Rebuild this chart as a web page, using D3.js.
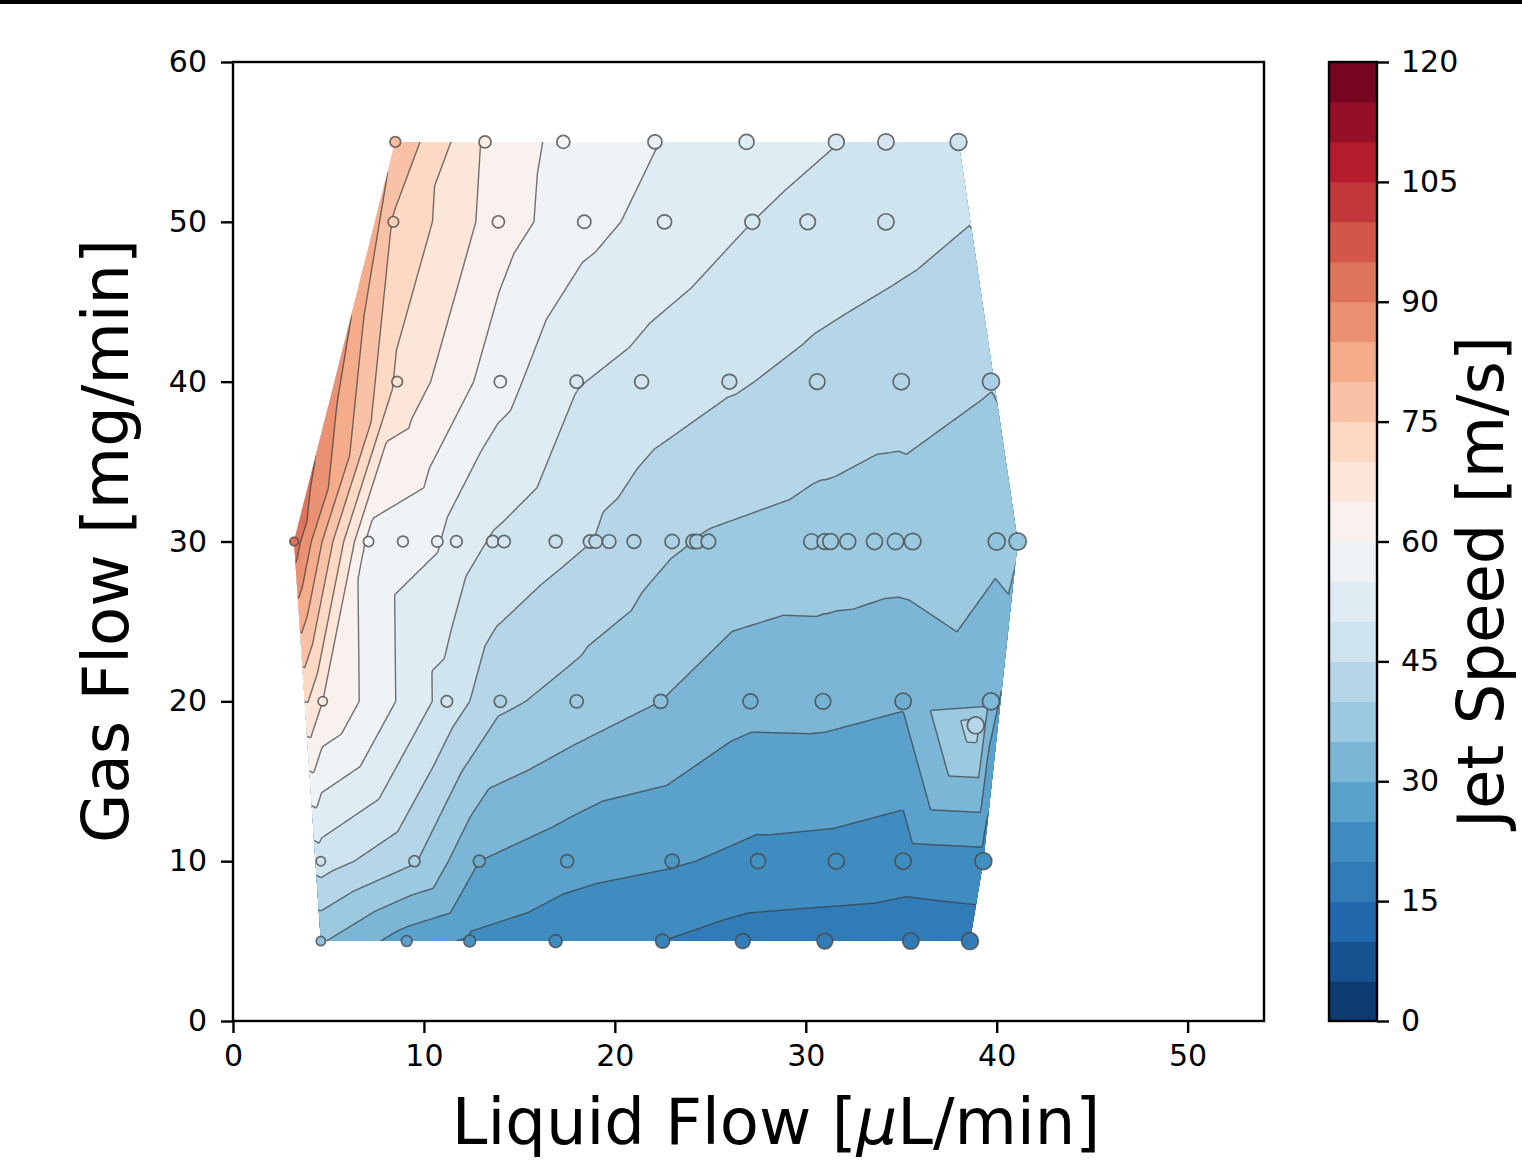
<!DOCTYPE html>
<html>
<head>
<meta charset="utf-8">
<script src="https://cdn.jsdelivr.net/npm/d3@7"></script>
<style>
    body { margin: 0; background: #fff; }
    svg text { font-family: "DejaVu Sans", sans-serif; fill: #000; }
</style>
</head>
<body>
<svg id="chart" width="1522" height="1162"></svg>
<script>
// measured points, read row by row (gas flow 55, 50, 40, 30, 20, 18.5, 10, 5)
const liquidFlow = [
    8.5, 13.2, 17.3, 22.1, 26.9, 31.6, 34.2, 38.0,
    8.4, 13.9, 18.4, 22.6, 27.2, 30.1, 34.2,
    8.6, 14.0, 18.0, 21.4, 26.0, 30.6, 35.0, 39.7,
    3.2, 7.1, 8.9, 10.7, 11.7, 13.6, 14.2, 16.9, 18.7, 19.0, 19.7, 21.0, 23.0, 24.1, 24.3, 24.9,
    30.3, 31.0, 31.3, 32.2, 33.6, 34.7, 35.6, 40.0, 41.1,
    4.7, 11.2, 14.0, 18.0, 22.4, 27.1, 30.9, 35.1, 39.7,
    38.9,
    4.6, 9.5, 12.9, 17.5, 23.0, 27.5, 31.6, 35.1, 39.3,
    4.6, 9.1, 12.4, 16.9, 22.5, 26.7, 31.0, 35.5, 38.6
];
const gasFlow = [
    55, 55, 55, 55, 55, 55, 55, 55,
    50, 50, 50, 50, 50, 50, 50,
    40, 40, 40, 40, 40, 40, 40, 40,
    30, 30, 30, 30, 30, 30, 30, 30, 30, 30, 30, 30, 30, 30, 30, 30,
    30, 30, 30, 30, 30, 30, 30, 30, 30,
    20, 20, 20, 20, 20, 20, 20, 20, 20,
    18.5,
    10, 10, 10, 10, 10, 10, 10, 10, 10,
    5, 5, 5, 5, 5, 5, 5, 5, 5
];
const jetSpeed = [
    79, 64.5, 58.4, 55.2, 52.4, 50.1, 49, 47.5,
    74.5, 62.4, 56.6, 53.1, 50, 48.5, 47,
    68.9, 56.9, 50.3, 48.2, 45.6, 43.5, 42, 40.3,
    93, 58.5, 57, 55.5, 52.5, 49.5, 49, 46.5, 45.1, 44.8, 43.8, 42.3, 40.6, 40, 39.8, 39.5,
    38, 37.8, 37.8, 37.6, 37.5, 37.4, 37.6, 35.6, 36,
    65, 48, 41, 38, 35, 31.5, 31.6, 30.5, 33,
    42.5,
    47.5, 40.5, 30, 27, 25.5, 23.7, 23.3, 22.4, 23,
    35.5, 27.6, 24.3, 22.2, 20, 18, 17.5, 17, 17.5
];

const xTicks = [0, 10, 20, 30, 40, 50];
const yTicks = [0, 10, 20, 30, 40, 50, 60];
const levels = [0, 5, 10, 15, 20, 25, 30, 35, 40, 45, 50, 55, 60,
                65, 70, 75, 80, 85, 90, 95, 100, 105, 110, 115, 120];
const cbarTicks = [0, 15, 30, 45, 60, 75, 90, 105, 120];

const svg = d3.select('#chart');

const plot = { left: 233, right: 1264, top: 62, bottom: 1021 };
const cbar = { left: 1329, right: 1377 };

const x = d3.scaleLinear().domain([0, 54]).range([plot.left, plot.right]);
const y = d3.scaleLinear().domain([0, 60]).range([plot.bottom, plot.top]);

// RdBu_r, piecewise linear through the 11 brewer stops like matplotlib
const stops = d3.schemeRdBu[11].slice().reverse();
const cmapLin = d3.scaleLinear()
    .domain(stops.map((s, i) => i / 10))
    .range(stops)
    .interpolate(d3.interpolateRgb);
const speedColor = v => cmapLin(Math.max(0, Math.min(1, v / 120)));

const points = liquidFlow.map((lx, i) => [lx, gasFlow[i], jetSpeed[i]]);
const delaunay = d3.Delaunay.from(points, d => d[0], d => d[1]);

// linear interpolation over the triangulation, sampled on a fine grid
const gx0 = 2, gx1 = 43, gy0 = 3, gy1 = 57, step = 0.08;
const nx = Math.round((gx1 - gx0) / step) + 1;
const ny = Math.round((gy1 - gy0) / step) + 1;
const grid = new Float64Array(nx * ny).fill(NaN);

const tri = delaunay.triangles;
for (let t = 0; t < tri.length; t += 3) {
    const a = points[tri[t]], b = points[tri[t + 1]], c = points[tri[t + 2]];
    const det = (b[1] - c[1]) * (a[0] - c[0]) + (c[0] - b[0]) * (a[1] - c[1]);
    if (Math.abs(det) < 1e-12) continue;
    const i0 = Math.max(0, Math.floor((Math.min(a[0], b[0], c[0]) - gx0) / step));
    const i1 = Math.min(nx - 1, Math.ceil((Math.max(a[0], b[0], c[0]) - gx0) / step));
    const j0 = Math.max(0, Math.floor((gy1 - Math.max(a[1], b[1], c[1])) / step));
    const j1 = Math.min(ny - 1, Math.ceil((gy1 - Math.min(a[1], b[1], c[1])) / step));
    for (let j = j0; j <= j1; j++) {
        const py = gy1 - j * step;
        for (let i = i0; i <= i1; i++) {
            const px = gx0 + i * step;
            const l1 = ((b[1] - c[1]) * (px - c[0]) + (c[0] - b[0]) * (py - c[1])) / det;
            const l2 = ((c[1] - a[1]) * (px - c[0]) + (a[0] - c[0]) * (py - c[1])) / det;
            const l3 = 1 - l1 - l2;
            if (l1 >= -1e-9 && l2 >= -1e-9 && l3 >= -1e-9) {
                grid[j * nx + i] = l1 * a[2] + l2 * b[2] + l3 * c[2];
            }
        }
    }
}

// outside the hull: take the value of the nearest point on the hull edge (clipped away later)
const hullPts = Array.from(delaunay.hull).map(i => points[i]);
for (let j = 0; j < ny; j++) {
    const py = gy1 - j * step;
    for (let i = 0; i < nx; i++) {
        if (!isNaN(grid[j * nx + i])) continue;
        const px = gx0 + i * step;
        let best = Infinity, val = 0;
        for (let k = 0; k < hullPts.length; k++) {
            const p = hullPts[k], q = hullPts[(k + 1) % hullPts.length];
            const dx = q[0] - p[0], dy = q[1] - p[1];
            let s = ((px - p[0]) * dx + (py - p[1]) * dy) / (dx * dx + dy * dy);
            s = Math.max(0, Math.min(1, s));
            const ex = p[0] + s * dx - px, ey = p[1] + s * dy - py;
            const d2 = ex * ex + ey * ey;
            if (d2 < best) { best = d2; val = p[2] + s * (q[2] - p[2]); }
        }
        grid[j * nx + i] = val;
    }
}

const toPixels = d3.geoTransform({
    point: function(gx, gy) {
        this.stream.point(x(gx0 + (gx - 0.5) * step), y(gy1 - (gy - 0.5) * step));
    }
});
const path = d3.geoPath(toPixels);
const contours = d3.contours().size([nx, ny]);

// clip everything to the convex hull of the measurements
const hullPx = hullPts.map(p => [x(p[0]), y(p[1])]);
svg.append('clipPath').attr('id', 'hullClip')
    .append('path')
    .attr('d', 'M' + hullPx.join('L') + 'Z');

const field = svg.append('g').attr('clip-path', 'url(#hullClip)');

levels.slice(0, -1).forEach(lv => {
    field.append('path')
        .attr('d', path(contours.contour(grid, lv)))
        .attr('fill', speedColor(lv + 2.5))
        .attr('stroke', 'none');
});

levels.slice(1, -1).forEach(lv => {
    field.append('path')
        .attr('d', path(contours.contour(grid, lv)))
        .attr('fill', 'none')
        .attr('stroke', '#3a3a3a')
        .attr('stroke-opacity', 0.7)
        .attr('stroke-width', 1.4);
});

// measurement markers
const r = d3.scaleSqrt().domain([0, 41]).range([2.6, 8.6]);
svg.append('g').selectAll('circle')
    .data(points)
    .join('circle')
    .attr('cx', d => x(d[0]))
    .attr('cy', d => y(d[1]))
    .attr('r', d => r(d[0]))
    .attr('fill', d => speedColor(d[2]))
    .attr('stroke', '#4a4a4a')
    .attr('stroke-opacity', 0.8)
    .attr('stroke-width', 1.7);

// axes
const xAxis = d3.axisBottom(x).tickValues(xTicks).tickSize(12).tickPadding(12);
const yAxis = d3.axisLeft(y).tickValues(yTicks).tickSize(12).tickPadding(14);

const gX = svg.append('g')
    .attr('transform', `translate(0,${plot.bottom})`)
    .call(xAxis);
const gY = svg.append('g')
    .attr('transform', `translate(${plot.left},0)`)
    .call(yAxis);

[gX, gY].forEach(g => {
    g.select('.domain').remove();
    g.selectAll('.tick line').attr('stroke', '#000').attr('stroke-width', 2.4);
    g.selectAll('.tick text').attr('font-size', 30).attr('font-family', 'DejaVu Sans');
});

svg.append('rect')
    .attr('x', plot.left).attr('y', plot.top)
    .attr('width', plot.right - plot.left).attr('height', plot.bottom - plot.top)
    .attr('fill', 'none').attr('stroke', '#000').attr('stroke-width', 2.4);

// colorbar
const cy = d3.scaleLinear().domain([0, 120]).range([plot.bottom, plot.top]);
svg.append('g').selectAll('rect')
    .data(levels.slice(0, -1))
    .join('rect')
    .attr('x', cbar.left)
    .attr('y', d => cy(d + 5))
    .attr('width', cbar.right - cbar.left)
    .attr('height', d => cy(d) - cy(d + 5) + 0.5)
    .attr('fill', d => speedColor(d + 2.5));

svg.append('rect')
    .attr('x', cbar.left).attr('y', plot.top)
    .attr('width', cbar.right - cbar.left).attr('height', plot.bottom - plot.top)
    .attr('fill', 'none').attr('stroke', '#000').attr('stroke-width', 2.4);

const gC = svg.append('g')
    .attr('transform', `translate(${cbar.right},0)`)
    .call(d3.axisRight(cy).tickValues(cbarTicks).tickSize(12).tickPadding(12));
gC.select('.domain').remove();
gC.selectAll('.tick line').attr('stroke', '#000').attr('stroke-width', 2.4);
gC.selectAll('.tick text').attr('font-size', 30).attr('font-family', 'DejaVu Sans');

// titles
const xLabel = svg.append('text')
    .attr('x', 776).attr('y', 1144)
    .attr('text-anchor', 'middle')
    .attr('font-size', 64);
xLabel.append('tspan').text('Liquid Flow [');
xLabel.append('tspan').attr('font-style', 'italic').text('μ');
xLabel.append('tspan').text('L/min]');

svg.append('text')
    .attr('transform', 'translate(128,541) rotate(-90)')
    .attr('text-anchor', 'middle')
    .attr('font-size', 64)
    .text('Gas Flow [mg/min]');

svg.append('text')
    .attr('transform', 'translate(1503,582) rotate(-90)')
    .attr('text-anchor', 'middle')
    .attr('font-size', 64)
    .text('Jet Speed [m/s]');

// dark strip along the top edge of the picture
svg.append('rect').attr('x', 0).attr('y', 0).attr('width', 1522).attr('height', 4).attr('fill', '#000');
</script>
</body>
</html>
